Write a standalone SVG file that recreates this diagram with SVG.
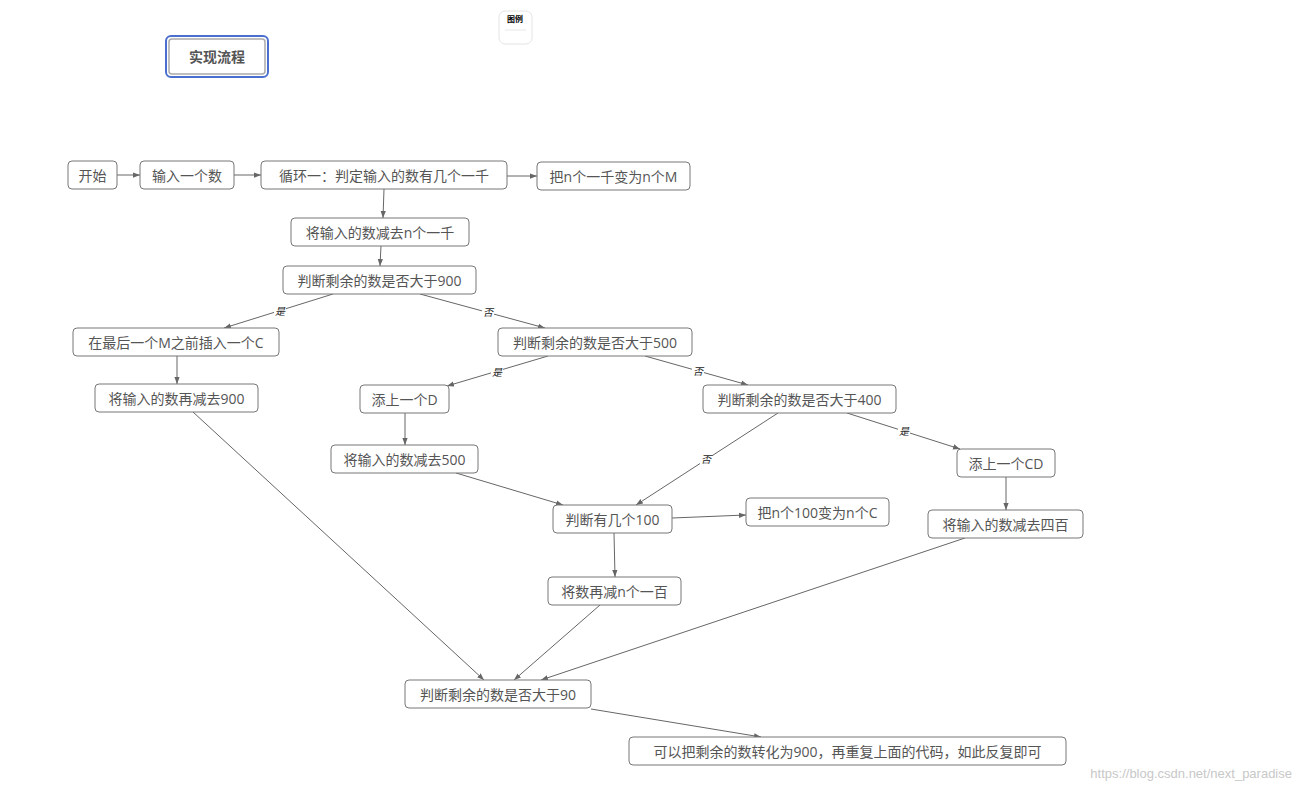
<svg xmlns="http://www.w3.org/2000/svg" width="1301" height="792" viewBox="0 0 1301 792">
<style>
.n rect{fill:#fff;stroke:#777;stroke-width:1}
.n text{font-family:"Open Sans","Noto Sans CJK SC",sans-serif;font-size:14px;fill:#555;text-anchor:middle;dominant-baseline:central}
#edges line{stroke:#666;stroke-width:1;marker-end:url(#a)}
.l{font-family:"Noto Sans CJK SC",sans-serif;font-size:10px;font-style:italic;fill:#222;text-anchor:middle;dominant-baseline:central}
.lb{fill:#fff}
</style>
<defs><marker id="a" viewBox="0 0 8 8" refX="8" refY="4" markerWidth="7" markerHeight="7" orient="auto"><path d="M0,1 L8,4 L0,7z" fill="#666"/></marker></defs>
<rect width="1301" height="792" fill="#fff"/>
<g id="title"><rect x="166" y="36" width="102" height="41" rx="5" fill="none" stroke="#4a6fcf" stroke-width="2"/><rect x="169" y="39" width="96" height="35" rx="3" fill="#fff" stroke="#aaa" stroke-width="1.5"/><text x="217" y="56" font-family="Noto Sans CJK SC,sans-serif" font-size="14" font-weight="bold" fill="#555" text-anchor="middle" dominant-baseline="central">实现流程</text></g>
<g id="legend"><rect x="499" y="11" width="33" height="33" rx="6" fill="#fff" stroke="#e4e4e4"/><line x1="505" y1="30" x2="526" y2="30" stroke="#e8e8e8"/><text x="515" y="22" font-family="Noto Sans CJK SC,sans-serif" font-size="8" font-weight="bold" fill="#000" text-anchor="middle">图例</text></g>
<g id="edges">
<line x1="117" y1="175" x2="140" y2="175"/>
<line x1="234" y1="175" x2="261" y2="175"/>
<line x1="507" y1="176" x2="537" y2="176"/>
<line x1="384" y1="189" x2="383" y2="218"/>
<line x1="381" y1="246" x2="380" y2="266"/>
<line x1="333" y1="294" x2="224" y2="328"/>
<line x1="420" y1="294" x2="545" y2="328"/>
<line x1="177" y1="356" x2="177" y2="384"/>
<line x1="548" y1="356" x2="447" y2="386"/>
<line x1="645" y1="356" x2="748" y2="385"/>
<line x1="405" y1="413" x2="405" y2="445"/>
<line x1="847" y1="413" x2="960" y2="449"/>
<line x1="778" y1="413" x2="636" y2="505"/>
<line x1="456" y1="473" x2="563" y2="505"/>
<line x1="672" y1="518" x2="746" y2="515"/>
<line x1="1006" y1="477" x2="1006" y2="510"/>
<line x1="614" y1="533" x2="615" y2="577"/>
<line x1="193" y1="412" x2="484" y2="680"/>
<line x1="600" y1="605" x2="514" y2="680"/>
<line x1="965" y1="538" x2="541" y2="680"/>
<line x1="591" y1="709" x2="761" y2="737"/>
</g>
<g id="labels">
<rect class="lb" x="274" y="304" width="12" height="12"/><text class="l" x="280" y="310">是</text>
<rect class="lb" x="482" y="305" width="12" height="12"/><text class="l" x="488" y="311">否</text>
<rect class="lb" x="491" y="365" width="12" height="12"/><text class="l" x="497" y="371">是</text>
<rect class="lb" x="692" y="364" width="12" height="12"/><text class="l" x="698" y="370">否</text>
<rect class="lb" x="898" y="424" width="12" height="12"/><text class="l" x="904" y="430">是</text>
<rect class="lb" x="700" y="452" width="12" height="12"/><text class="l" x="706" y="458">否</text>
</g>
<g id="n1" class="n"><rect x="68" y="161" width="49" height="28" rx="4"/><text x="92.5" y="175">开始</text></g>
<g id="n2" class="n"><rect x="140" y="161" width="94" height="28" rx="4"/><text x="187" y="175">输入一个数</text></g>
<g id="n3" class="n"><rect x="261" y="161" width="246" height="28" rx="4"/><text x="384" y="175">循环一：判定输入的数有几个一千</text></g>
<g id="n4" class="n"><rect x="537" y="162" width="153" height="28" rx="4"/><text x="613.5" y="176">把n个一千变为n个M</text></g>
<g id="n5" class="n"><rect x="291" y="218" width="178" height="28" rx="4"/><text x="380" y="232">将输入的数减去n个一千</text></g>
<g id="n6" class="n"><rect x="283" y="266" width="193" height="28" rx="4"/><text x="379.5" y="280">判断剩余的数是否大于900</text></g>
<g id="n7" class="n"><rect x="73" y="328" width="206" height="28" rx="4"/><text x="176" y="342">在最后一个M之前插入一个C</text></g>
<g id="n8" class="n"><rect x="498" y="328" width="194" height="28" rx="4"/><text x="595" y="342">判断剩余的数是否大于500</text></g>
<g id="n9" class="n"><rect x="95" y="384" width="163" height="28" rx="4"/><text x="176.5" y="398">将输入的数再减去900</text></g>
<g id="n10" class="n"><rect x="360" y="385" width="89" height="28" rx="4"/><text x="404.5" y="399">添上一个D</text></g>
<g id="n11" class="n"><rect x="703" y="385" width="193" height="28" rx="4"/><text x="799.5" y="399">判断剩余的数是否大于400</text></g>
<g id="n12" class="n"><rect x="331" y="445" width="147" height="28" rx="4"/><text x="404.5" y="459">将输入的数减去500</text></g>
<g id="n13" class="n"><rect x="957" y="449" width="98" height="28" rx="4"/><text x="1006" y="463">添上一个CD</text></g>
<g id="n14" class="n"><rect x="553" y="505" width="119" height="28" rx="4"/><text x="612.5" y="519">判断有几个100</text></g>
<g id="n15" class="n"><rect x="746" y="498" width="143" height="28" rx="4"/><text x="817.5" y="512">把n个100变为n个C</text></g>
<g id="n16" class="n"><rect x="928" y="510" width="155" height="28" rx="4"/><text x="1005.5" y="524">将输入的数减去四百</text></g>
<g id="n17" class="n"><rect x="548" y="577" width="133" height="28" rx="4"/><text x="614.5" y="591">将数再减n个一百</text></g>
<g id="n18" class="n"><rect x="405" y="680" width="186" height="28" rx="4"/><text x="498" y="694">判断剩余的数是否大于90</text></g>
<g id="n19" class="n"><rect x="629" y="737" width="437" height="28" rx="4"/><text x="847.5" y="751">可以把剩余的数转化为900，再重复上面的代码，如此反复即可</text></g>
<text x="1292" y="778" font-family="Liberation Sans,sans-serif" font-size="13" fill="#c8c8c8" text-anchor="end">https://blog.csdn.net/next_paradise</text>
</svg>
